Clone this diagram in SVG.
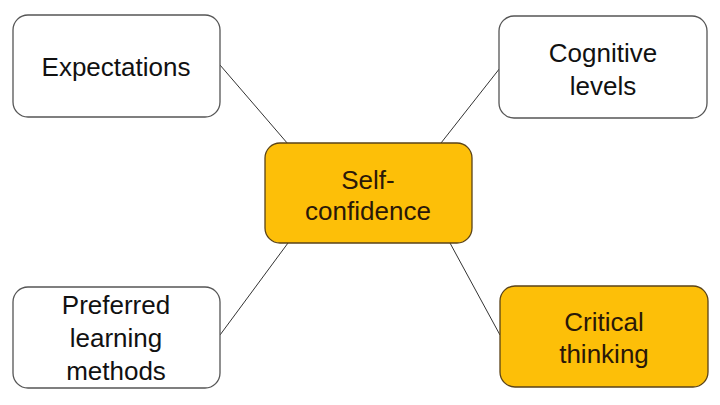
<svg xmlns="http://www.w3.org/2000/svg" width="720" height="405" viewBox="0 0 720 405">
<style>
.w{fill:#fff;stroke:#555;stroke-width:1.3}
.o{fill:#FDBF08;stroke:#5a4318;stroke-width:1.3}
.t{font-family:"Liberation Sans",Arial,sans-serif;font-size:26px;fill:#111;text-anchor:middle}
.to{fill:#2a1808}
.c{stroke:#333;stroke-width:1;fill:none}
</style>
<rect width="720" height="405" fill="#fff"/>
<g id="connectors">
<line class="c" x1="220" y1="65" x2="288" y2="144"/>
<line class="c" x1="500" y1="68" x2="441" y2="143"/>
<line class="c" x1="220" y1="335" x2="288" y2="243"/>
<line class="c" x1="450" y1="243" x2="500" y2="335"/>
</g>
<g id="expectations">
<rect class="w" x="13" y="15" width="207" height="102" rx="15"/>
<text class="t" x="116" y="76">Expectations</text>
</g>
<g id="cognitive">
<rect class="w" x="499" y="16" width="208" height="102" rx="15"/>
<text class="t" x="603" y="62">Cognitive</text>
<text class="t" x="603" y="95">levels</text>
</g>
<g id="self-confidence">
<rect class="o" x="265" y="143" width="207" height="100" rx="15"/>
<text class="t to" x="368" y="189">Self-</text>
<text class="t to" x="368" y="220">confidence</text>
</g>
<g id="preferred">
<rect class="w" x="13" y="287" width="207" height="101" rx="15"/>
<text class="t" x="116" y="314">Preferred</text>
<text class="t" x="116" y="347">learning</text>
<text class="t" x="116" y="380">methods</text>
</g>
<g id="critical">
<rect class="o" x="500" y="286" width="208" height="101" rx="15"/>
<text class="t to" x="604" y="331">Critical</text>
<text class="t to" x="604" y="363">thinking</text>
</g>
</svg>
